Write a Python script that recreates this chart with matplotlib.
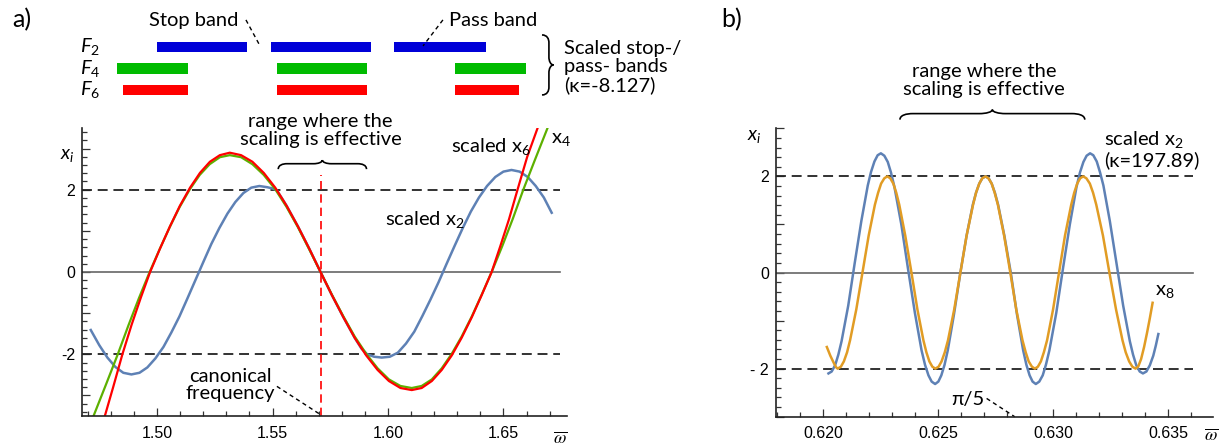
import matplotlib
matplotlib.use('Agg')
import matplotlib.pyplot as plt
from matplotlib.path import Path
from matplotlib.patches import PathPatch
from matplotlib.ticker import MultipleLocator, FuncFormatter

plt.rcParams['font.family'] = ['Lato', 'DejaVu Sans']
plt.rcParams['mathtext.fontset'] = 'custom'
plt.rcParams['mathtext.rm'] = 'Lato'
plt.rcParams['mathtext.it'] = 'Lato:italic'
plt.rcParams['mathtext.bf'] = 'Lato:bold'

# ---- panel a) : scaled x2, x4, scaled x6 vs omega-bar
w_x2 = [1.4713, 1.4750, 1.4785, 1.4820, 1.4854, 1.4889, 1.4924, 1.4958, 1.4993, 1.5028,
        1.5062, 1.5097, 1.5131, 1.5166, 1.5201, 1.5235, 1.5270, 1.5305, 1.5339, 1.5374,
        1.5408, 1.5443, 1.5478, 1.5500, 1.5518, 1.5540, 1.5561, 1.5610, 1.5659, 1.5708,
        1.5757, 1.5807, 1.5856, 1.5885, 1.5910, 1.5940, 1.5973, 1.6008, 1.6043, 1.6078,
        1.6114, 1.6149, 1.6184, 1.6219, 1.6254, 1.6289, 1.6324, 1.6359, 1.6394, 1.6429,
        1.6465, 1.6500, 1.6535, 1.6570, 1.6605, 1.6640, 1.6675, 1.6709]
y_x2 = [-1.41, -1.78, -2.08, -2.31, -2.45, -2.49, -2.45, -2.32, -2.10, -1.82,
        -1.47, -1.08, -0.65, -0.20, 0.25, 0.68, 1.07, 1.42, 1.70, 1.92,
        2.05, 2.09, 2.06, 2.03, 1.99, 1.80, 1.61, 1.11, 0.57, 0.00,
        -0.56, -1.10, -1.60, -1.86, -2.00, -2.06, -2.08, -2.06, -1.96, -1.74,
        -1.45, -1.07, -0.67, -0.25, 0.20, 0.64, 1.07, 1.47, 1.81, 2.09,
        2.31, 2.44, 2.48, 2.44, 2.31, 2.09, 1.81, 1.44]

w_x4 = [1.4725, 1.4780, 1.4830, 1.4876, 1.4922, 1.4968, 1.5011, 1.5055, 1.5098, 1.5142,
        1.5185, 1.5228, 1.5272, 1.5315, 1.5364, 1.5413, 1.5462, 1.5512, 1.5561, 1.5610,
        1.5659, 1.5708, 1.5757, 1.5807, 1.5856, 1.5906, 1.5955, 1.6004, 1.6054, 1.6103,
        1.6146, 1.6190, 1.6233, 1.6276, 1.6319, 1.6363, 1.6406, 1.6449, 1.6495, 1.6541,
        1.6586, 1.6636, 1.6691]
y_x4 = [-3.50, -2.72, -2.00, -1.30, -0.63, 0.00, 0.55, 1.09, 1.58, 2.01,
        2.36, 2.62, 2.79, 2.84, 2.79, 2.62, 2.36, 2.01, 1.58, 1.09,
        0.55, 0.00, -0.55, -1.08, -1.57, -1.99, -2.34, -2.61, -2.77, -2.82,
        -2.77, -2.61, -2.34, -1.99, -1.57, -1.08, -0.55, 0.00, 0.63, 1.30,
        2.00, 2.72, 3.50]

w_x6 = [1.4774, 1.4810, 1.4850, 1.4890, 1.4930, 1.4970, 1.5013, 1.5056, 1.5099, 1.5143,
        1.5186, 1.5229, 1.5272, 1.5315, 1.5364, 1.5413, 1.5462, 1.5512, 1.5561, 1.5610,
        1.5659, 1.5708, 1.5757, 1.5807, 1.5856, 1.5906, 1.5955, 1.6004, 1.6054, 1.6103,
        1.6146, 1.6190, 1.6233, 1.6276, 1.6319, 1.6363, 1.6406, 1.6449, 1.6486, 1.6524,
        1.6561, 1.6603, 1.6648]
y_x6 = [-3.50, -2.80, -2.00, -1.28, -0.62, 0.00, 0.57, 1.11, 1.61, 2.05,
        2.41, 2.68, 2.84, 2.90, 2.84, 2.68, 2.41, 2.05, 1.61, 1.11,
        0.57, 0.00, -0.56, -1.10, -1.60, -2.03, -2.38, -2.65, -2.82, -2.87,
        -2.82, -2.65, -2.38, -2.03, -1.60, -1.10, -0.56, 0.00, 0.62, 1.28,
        2.00, 2.80, 3.50]

canonical = 1.5708

# pass bands (|x| <= 2) drawn above panel a)
band_names = ['$F_2$', '$F_4$', '$F_6$']
band_colors = ['#0000d8', '#00bb00', '#ff0000']
band_start = [[1.5001, 1.5492, 1.6026],
              [1.4826, 1.5518, 1.6290],
              [1.4854, 1.5518, 1.6290]]
band_end = [[1.5391, 1.5925, 1.6423],
            [1.5135, 1.5908, 1.6596],
            [1.5135, 1.5908, 1.6568]]

# ---- panel b) : scaled x2 and x8
w_b2 = [0.62022, 0.62036, 0.62051, 0.62065, 0.62079, 0.62108, 0.62136, 0.62165, 0.62193, 0.62207,
        0.62222, 0.62236, 0.62250, 0.62265, 0.62280, 0.62294, 0.62309, 0.62339, 0.62368, 0.62398,
        0.62427, 0.62442, 0.62457, 0.62471, 0.62486, 0.62500, 0.62513, 0.62527, 0.62541, 0.62568,
        0.62596, 0.62623, 0.62650, 0.62664, 0.62678, 0.62691, 0.62705, 0.62719, 0.62732, 0.62746,
        0.62760, 0.62787, 0.62815, 0.62842, 0.62869, 0.62883, 0.62897, 0.62910, 0.62924, 0.62939,
        0.62954, 0.62968, 0.62983, 0.63013, 0.63042, 0.63072, 0.63101, 0.63116, 0.63131, 0.63145,
        0.63160, 0.63174, 0.63189, 0.63203, 0.63218, 0.63246, 0.63275, 0.63304, 0.63333, 0.63347,
        0.63361, 0.63376, 0.63390, 0.63405, 0.63420, 0.63435, 0.63446, 0.63457]
y_b2 = [-2.10, -2.06, -1.93, -1.71, -1.43, -0.69, 0.19, 1.07, 1.81, 2.09,
        2.31, 2.44, 2.48, 2.43, 2.30, 2.08, 1.78, 1.00, 0.08, -0.84,
        -1.62, -1.92, -2.14, -2.27, -2.32, -2.27, -2.14, -1.92, -1.62, -0.87,
        0.00, 0.77, 1.41, 1.66, 1.85, 1.96, 2.00, 1.96, 1.85, 1.66,
        1.41, 0.77, 0.00, -0.87, -1.62, -1.92, -2.14, -2.27, -2.32, -2.27,
        -2.14, -1.92, -1.62, -0.84, 0.08, 1.00, 1.78, 2.08, 2.30, 2.43,
        2.48, 2.44, 2.31, 2.09, 1.81, 1.07, 0.19, -0.69, -1.43, -1.71,
        -1.93, -2.06, -2.10, -2.06, -1.93, -1.73, -1.52, -1.28]

w_b8 = [0.62015, 0.62030, 0.62045, 0.62055, 0.62062, 0.62076, 0.62089, 0.62103, 0.62116, 0.62143,
        0.62170, 0.62197, 0.62224, 0.62238, 0.62251, 0.62265, 0.62278, 0.62291, 0.62304, 0.62317,
        0.62330, 0.62356, 0.62383, 0.62409, 0.62435, 0.62448, 0.62461, 0.62474, 0.62487, 0.62501,
        0.62514, 0.62528, 0.62542, 0.62569, 0.62596, 0.62623, 0.62651, 0.62664, 0.62678, 0.62691,
        0.62705, 0.62718, 0.62732, 0.62745, 0.62759, 0.62786, 0.62813, 0.62839, 0.62866, 0.62880,
        0.62893, 0.62907, 0.62920, 0.62933, 0.62946, 0.62959, 0.62973, 0.62999, 0.63025, 0.63051,
        0.63078, 0.63091, 0.63104, 0.63117, 0.63130, 0.63144, 0.63159, 0.63173, 0.63187, 0.63216,
        0.63244, 0.63273, 0.63301, 0.63315, 0.63330, 0.63344, 0.63358, 0.63370, 0.63382, 0.63395,
        0.63408, 0.63420, 0.63432]
y_b8 = [-1.55, -1.73, -1.88, -1.97, -2.00, -1.96, -1.85, -1.66, -1.41, -0.77,
        0.00, 0.77, 1.41, 1.66, 1.85, 1.96, 2.00, 1.96, 1.85, 1.66,
        1.41, 0.77, 0.00, -0.77, -1.41, -1.66, -1.85, -1.96, -2.00, -1.96,
        -1.85, -1.66, -1.41, -0.77, 0.00, 0.77, 1.41, 1.66, 1.85, 1.96,
        2.00, 1.96, 1.85, 1.66, 1.41, 0.77, 0.00, -0.77, -1.41, -1.66,
        -1.85, -1.96, -2.00, -1.96, -1.85, -1.66, -1.41, -0.77, 0.00, 0.77,
        1.41, 1.66, 1.85, 1.96, 2.00, 1.96, 1.85, 1.66, 1.41, 0.77,
        0.00, -0.77, -1.41, -1.66, -1.85, -1.96, -2.00, -1.95, -1.80, -1.55,
        -1.25, -0.95, -0.63]

pi5 = 0.62832

blue = '#5e81b5'
orange = '#e19c24'
green = '#5db000'
tickfont = 'Liberation Sans'


def brace(ax, a0, a1, b, h, f=0.12, vertical=False):
    # curly brace, tip in the middle, along a0..a1, across b..b+h
    shape = [(0, 0), (0, 0.45), (f * 0.5, 0.6), (f, 0.6), (0.5 - f, 0.6),
             (0.5 - f * 0.5, 0.6), (0.5, 0.75), (0.5, 1.0),
             (0.5, 0.75), (0.5 + f * 0.5, 0.6), (0.5 + f, 0.6), (1 - f, 0.6),
             (1 - f * 0.5, 0.6), (1, 0.45), (1, 0)]
    codes = [Path.MOVETO] + [Path.CURVE4] * 3 + [Path.LINETO] + [Path.CURVE4] * 6 \
        + [Path.LINETO] + [Path.CURVE4] * 3
    pts = [(a0 + u * (a1 - a0), b + v * h) for u, v in shape]
    if vertical:
        pts = [(y, x) for x, y in pts]
    ax.add_patch(PathPatch(Path(pts, codes), fill=False, lw=1.2, color='black',
                           clip_on=False))


def style_axes(ax, xmaj, xmin_step, ylabels):
    for s in ['top', 'right']:
        ax.spines[s].set_visible(False)
    for s in ['left', 'bottom']:
        ax.spines[s].set_linewidth(1.2)
        ax.spines[s].set_color('#222222')
    ax.xaxis.set_major_locator(MultipleLocator(xmaj))
    ax.xaxis.set_minor_locator(MultipleLocator(xmin_step))
    ax.yaxis.set_major_locator(MultipleLocator(1))
    ax.yaxis.set_minor_locator(MultipleLocator(0.2))
    ax.yaxis.set_major_formatter(FuncFormatter(lambda v, p: ylabels.get(int(round(v)), '')))
    ax.tick_params(which='both', direction='in', color='#333333', width=0.9,
                   labelsize=11.5, labelfontfamily=tickfont)
    ax.tick_params(which='major', length=6)
    ax.tick_params(which='minor', length=3.5)
    ax.tick_params(axis='x', pad=7)
    ax.tick_params(axis='y', pad=5)


fig = plt.figure(figsize=(12.2, 4.44), dpi=100)

# ---------------- panel a)
ax1 = fig.add_axes([0.0672, 0.0631, 0.3975, 0.6486])
xl1 = (1.4675, 1.6775)
ax1.set_xlim(*xl1)
ax1.set_ylim(-3.5, 3.5)
xend1 = 1.6745
for yy in (2, -2):
    ax1.plot([xl1[0], xend1], [yy, yy], color='#222222', lw=1.3, dashes=(5.5, 3.2))
ax1.plot([xl1[0], xend1], [0, 0], color='#666666', lw=1.2)
ax1.plot(w_x2, y_x2, color=blue, lw=1.8)
ax1.plot(w_x4, y_x4, color=green, lw=1.6)
ax1.plot(w_x6, y_x6, color='red', lw=1.6)
ax1.plot([canonical, canonical], [-3.5, 2.35], color='red', lw=1.2, dashes=(5, 3))
style_axes(ax1, 0.05, 0.01, {2: '2', 0: '0', -2: '-2'})
ax1.xaxis.set_major_formatter(FuncFormatter(lambda v, p: f'{v:.2f}'))

brace(ax1, 1.5525, 1.5907, 2.50, 0.22, f=0.1)
ax1.text(canonical, 3.44, 'range where the\nscaling is effective', ha='center', va='center',
         fontsize=14.5, linespacing=1.1, clip_on=False)
ax1.text(1.5316, -2.75, 'canonical\nfrequency', ha='center', va='center', fontsize=14.5,
         linespacing=1.05)
ax1.plot([1.5519, 1.5706], [-2.78, -3.46], color='black', lw=1.0, dashes=(3, 2.5))
ax1.text(1.5987, 1.28, 'scaled x$_2$', ha='left', va='center', fontsize=14.5)
ax1.text(1.6271, 3.06, 'scaled x$_6$', ha='left', va='center', fontsize=14.5)
ax1.text(1.6706, 3.22, 'x$_4$', ha='left', va='center', fontsize=14.5, clip_on=False)
ax1.text(-0.03, 0.905, '$x_i$', transform=ax1.transAxes, ha='center', va='center',
         fontsize=14)
ax1.text(0.9856, -0.076, r'$\overline{\omega}$', transform=ax1.transAxes, ha='center',
         va='center', fontsize=13, math_fontfamily='stix')

# bands above panel a)
axb = fig.add_axes([0.0672, 0.7523, 0.3975, 0.2477])
axb.set_xlim(*xl1)
axb.set_ylim(2.93, -2.186)
axb.axis('off')
for i in range(3):
    for s, e in zip(band_start[i], band_end[i]):
        axb.barh(i, e - s, left=s, height=0.5, color=band_colors[i], edgecolor='none')
    axb.text(1.4755, i, band_names[i], ha='right', va='center', fontsize=14.5, clip_on=False)
axb.text(1.516, -1.21, 'Stop band', ha='center', va='center', fontsize=14.5)
axb.text(1.6455, -1.21, 'Pass band', ha='center', va='center', fontsize=14.5)
axb.plot([1.5385, 1.5446], [-1.26, -0.05], color='black', lw=1.0, dashes=(3, 2.5))
axb.plot([1.6238, 1.6152], [-1.26, -0.05], color='black', lw=1.0, dashes=(3, 2.5))
brace(axb, -0.56, 2.23, 1.6667, 0.0050, f=0.13, vertical=True)
axb.text(1.6762, 0.93, 'Scaled stop-/\npass- bands\n(\u03ba=-8.127)', ha='left',
         va='center', fontsize=14.5, linespacing=1.1, clip_on=False)

fig.text(0.018, 0.955, 'a)', fontsize=18, ha='center', va='center')
fig.text(0.600, 0.955, 'b)', fontsize=18, ha='center', va='center')

# ---------------- panel b)
ax2 = fig.add_axes([0.6361, 0.0615, 0.3584, 0.6495])
xl2 = (0.61794, 0.63696)
ax2.set_xlim(*xl2)
ax2.set_ylim(-3, 3)
xend2 = 0.63607
for yy in (2, -2):
    ax2.plot([xl2[0], xend2], [yy, yy], color='#222222', lw=1.3, dashes=(5.5, 3.2))
ax2.plot([xl2[0], xend2], [0, 0], color='#666666', lw=1.2)
ax2.plot(w_b2, y_b2, color=blue, lw=1.8)
ax2.plot(w_b8, y_b8, color=orange, lw=1.8)
style_axes(ax2, 0.005, 0.001, {2: '2', 0: '0', -2: '- 2'})
ax2.xaxis.set_major_formatter(FuncFormatter(lambda v, p: f'{v:.3f}'))

brace(ax2, 0.62333, 0.63137, 3.18, 0.21, f=0.07)
ax2.text(0.62699, 4.0, 'range where the\nscaling is effective', ha='center', va='center',
         fontsize=14.5, linespacing=1.1, clip_on=False)
ax2.text(0.63219, 2.57, 'scaled x$_2$\n(\u03ba=197.89)', ha='left', va='center',
         fontsize=14.5, linespacing=1.05)
ax2.text(0.63442, -0.40, 'x$_8$', ha='left', va='center', fontsize=14.5)
ax2.text(0.62629, -2.65, '\u03c0/5', ha='center', va='center', fontsize=14.5)
ax2.plot([0.62710, pi5], [-2.62, -3.0], color='black', lw=1.0, dashes=(3, 2.5),
         clip_on=False)
ax2.text(-0.0503, 0.970, '$x_i$', transform=ax2.transAxes, ha='center', va='center',
         fontsize=14)
ax2.text(0.9947, -0.063, r'$\overline{\omega}$', transform=ax2.transAxes, ha='center',
         va='center', fontsize=13, math_fontfamily='stix')

fig.savefig('out.png', dpi=100)
